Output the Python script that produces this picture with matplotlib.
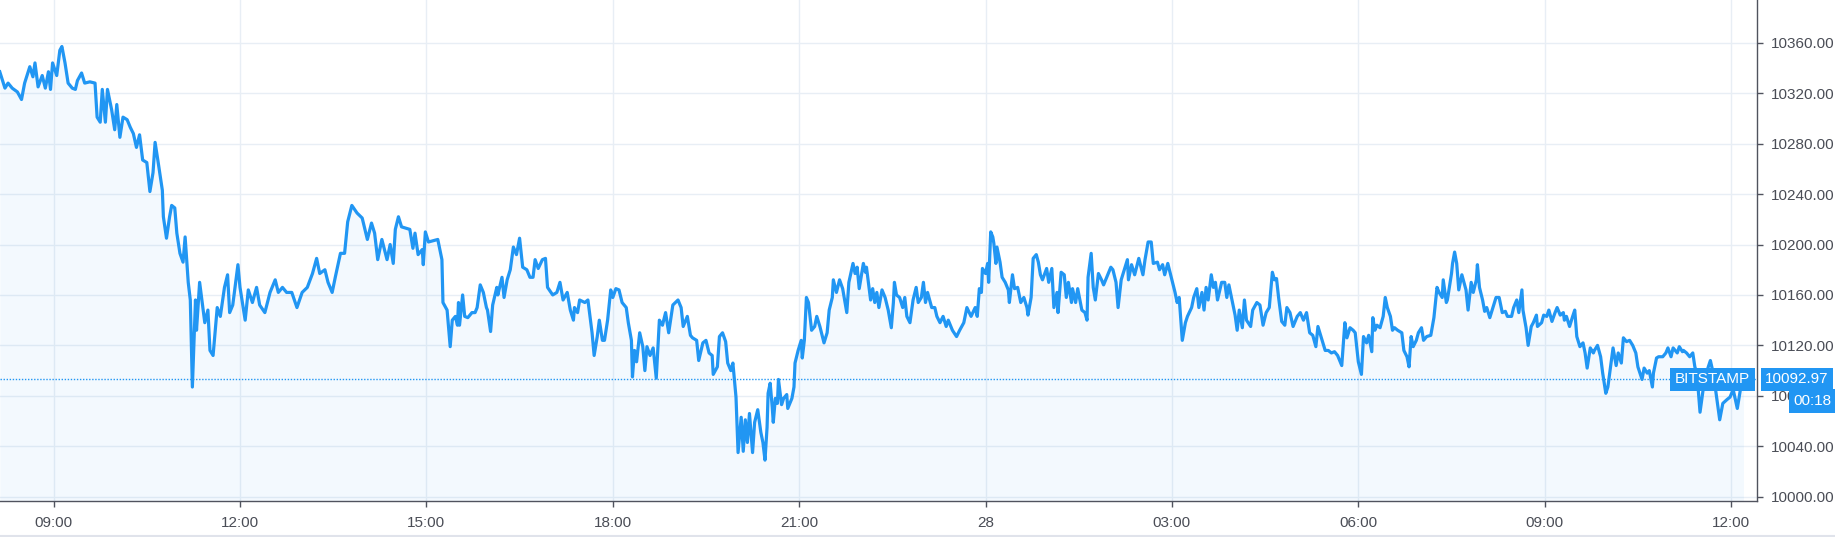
import numpy as np
import matplotlib.pyplot as plt
from matplotlib.transforms import blended_transform_factory
from matplotlib.lines import Line2D

plt.rcParams["font.family"] = ["Liberation Sans", "DejaVu Sans"]

# BITSTAMP price, minutes after 08:00 on the 27th
minutes = [8, 13, 16, 20, 25, 29, 32, 37, 40, 42, 45, 49, 52, 55, 57, 59, 63, 66, 68, 71,
           74, 78, 81, 83, 87, 90, 95, 100, 102, 105, 107, 110, 112, 116, 119, 121, 124, 127, 131, 134,
           137, 140, 143, 146, 150, 153, 156, 158, 161, 165, 166, 169, 172, 174, 177, 179, 182, 185, 187, 190,
           192, 194, 197, 198, 201, 206, 209, 211, 214, 218, 221, 225, 228, 230, 233, 238, 240, 245, 248, 252,
           256, 259, 264, 269, 274, 277, 281, 285, 290, 295, 300, 305, 310, 314, 317, 322, 325, 329, 332, 337,
           341, 344, 348, 353, 358, 363, 367, 370, 373, 377, 382, 385, 388, 390, 393, 396, 404, 407, 409, 412,
           416, 417, 419, 422, 431, 435, 436, 440, 443, 445, 448, 450, 451, 452, 455, 457, 460, 464, 467, 469,
           472, 475, 478, 479, 482, 484, 488, 489, 493, 495, 498, 501, 504, 507, 510, 513, 517, 520, 523, 525,
           528, 532, 535, 537, 542, 546, 549, 552, 556, 559, 562, 563, 566, 568, 573, 576, 580, 582, 585, 587,
           590, 592, 595, 598, 600, 603, 606, 609, 613, 615, 618, 619, 621, 623, 626, 629, 631, 633, 636, 639,
           642, 645, 648, 651, 654, 658, 663, 666, 668, 672, 675, 677, 681, 683, 687, 690, 693, 696, 697, 701,
           703, 706, 709, 711, 714, 716, 719, 721, 724, 726, 728, 730, 732, 735, 737, 740, 743, 745, 747, 749,
           750, 752, 754, 755, 757, 759, 760, 763, 765, 768, 769, 773, 775, 776, 779, 782, 783, 785, 787, 789,
           792, 795, 797, 800, 804, 807, 809, 812, 813, 816, 819, 822, 826, 828, 832, 834, 836, 838, 842, 844,
           845, 849, 851, 853, 855, 857, 860, 863, 866, 869, 871, 872, 874, 877, 880, 882, 884, 887, 890, 893,
           895, 898, 900, 902, 904, 908, 911, 913, 916, 919, 922, 924, 928, 932, 935, 939, 942, 946, 950, 952,
           954, 956, 957, 960, 962, 963, 965, 967, 968, 970, 971, 974, 976, 979, 982, 983, 986, 988, 991, 994,
           997, 1000, 1001, 1004, 1006, 1009, 1011, 1013, 1015, 1019, 1021, 1024, 1026, 1029, 1030, 1033, 1036, 1038, 1040, 1043,
           1044, 1047, 1049, 1053, 1056, 1058, 1059, 1062, 1064, 1066, 1069, 1072, 1074, 1077, 1081, 1083, 1086, 1088, 1091, 1094,
           1097, 1098, 1101, 1104, 1108, 1112, 1114, 1117, 1120, 1122, 1126, 1128, 1131, 1133, 1136, 1140, 1143, 1145, 1147, 1150,
           1153, 1155, 1159, 1161, 1164, 1166, 1169, 1171, 1173, 1175, 1178, 1180, 1182, 1184, 1188, 1191, 1193, 1195, 1198, 1201,
           1203, 1205, 1208, 1210, 1212, 1216, 1218, 1222, 1225, 1228, 1231, 1234, 1237, 1239, 1241, 1243, 1246, 1249, 1251, 1254,
           1257, 1261, 1264, 1267, 1270, 1273, 1276, 1279, 1281, 1285, 1288, 1291, 1294, 1297, 1300, 1304, 1307, 1309, 1312, 1315,
           1317, 1320, 1323, 1325, 1328, 1330, 1333, 1334, 1336, 1338, 1341, 1344, 1346, 1348, 1351, 1353, 1355, 1358, 1362, 1364,
           1367, 1369, 1371, 1373, 1376, 1378, 1381, 1383, 1386, 1390, 1393, 1396, 1398, 1401, 1402, 1405, 1406, 1410, 1411, 1413,
           1415, 1417, 1420, 1422, 1424, 1426, 1429, 1431, 1434, 1435, 1437, 1440, 1442, 1444, 1447, 1450, 1453, 1456, 1459, 1462,
           1464, 1468, 1470, 1473, 1475, 1478, 1479, 1482, 1484, 1487, 1489, 1492, 1493, 1497, 1499, 1502, 1504, 1507, 1510, 1512,
           1515, 1518, 1519, 1521, 1524, 1527, 1529, 1531, 1534, 1537, 1539, 1541, 1544, 1547, 1548, 1551, 1554, 1556, 1559, 1561,
           1564, 1566, 1569, 1571, 1574, 1576, 1579, 1582, 1585, 1588, 1590, 1594, 1596, 1599, 1601, 1604, 1605, 1608, 1610, 1614,
           1617, 1619, 1622, 1624, 1628, 1630, 1633, 1634, 1637, 1640, 1643, 1645, 1647, 1650, 1653, 1655, 1658, 1660, 1663, 1666,
           1669, 1672, 1676, 1679, 1682, 1686, 1689, 1692]

price = [10337, 10324, 10328, 10324, 10321, 10315, 10328, 10341, 10333, 10344, 10325, 10334, 10324, 10337, 10323, 10344, 10334, 10354, 10357, 10344,
         10328, 10324, 10323, 10330, 10336, 10328, 10329, 10328, 10301, 10297, 10323, 10297, 10323, 10307, 10291, 10311, 10285, 10301, 10299, 10293,
         10288, 10277, 10287, 10267, 10265, 10242, 10257, 10281, 10265, 10243, 10222, 10205, 10222, 10231, 10229, 10209, 10193, 10186, 10206, 10170,
         10156, 10087, 10156, 10132, 10170, 10138, 10148, 10116, 10112, 10150, 10143, 10166, 10176, 10146, 10152, 10184, 10166, 10140, 10164, 10154,
         10166, 10152, 10146, 10162, 10172, 10162, 10166, 10162, 10162, 10150, 10162, 10166, 10177, 10189, 10177, 10180, 10170, 10162, 10174, 10193,
         10193, 10218, 10231, 10225, 10221, 10204, 10217, 10209, 10188, 10204, 10188, 10200, 10185, 10212, 10222, 10214, 10212, 10197, 10209, 10192,
         10196, 10184, 10210, 10202, 10204, 10188, 10154, 10148, 10119, 10140, 10143, 10136, 10154, 10136, 10160, 10143, 10142, 10146, 10146, 10150,
         10168, 10162, 10150, 10148, 10131, 10152, 10166, 10160, 10174, 10158, 10172, 10180, 10198, 10192, 10205, 10182, 10180, 10174, 10174, 10188,
         10181, 10188, 10189, 10166, 10160, 10162, 10170, 10156, 10162, 10148, 10140, 10150, 10146, 10156, 10154, 10156, 10130, 10112, 10127, 10140,
         10124, 10124, 10140, 10164, 10158, 10165, 10164, 10154, 10150, 10138, 10124, 10095, 10116, 10107, 10130, 10119, 10100, 10119, 10112, 10118,
         10094, 10140, 10136, 10146, 10130, 10152, 10156, 10150, 10135, 10143, 10128, 10126, 10124, 10108, 10122, 10124, 10114, 10112, 10097, 10103,
         10127, 10130, 10123, 10106, 10100, 10106, 10079, 10035, 10063, 10036, 10061, 10043, 10066, 10035, 10059, 10069, 10051, 10043, 10029, 10055,
         10082, 10090, 10071, 10059, 10078, 10074, 10093, 10073, 10078, 10081, 10070, 10078, 10087, 10106, 10116, 10124, 10110, 10124, 10158, 10154,
         10132, 10135, 10143, 10135, 10122, 10130, 10148, 10158, 10172, 10162, 10172, 10165, 10146, 10170, 10185, 10177, 10182, 10165, 10185, 10178,
         10182, 10156, 10165, 10154, 10162, 10150, 10164, 10158, 10148, 10134, 10154, 10170, 10160, 10158, 10150, 10158, 10143, 10138, 10156, 10166,
         10154, 10158, 10170, 10154, 10162, 10150, 10150, 10143, 10138, 10143, 10135, 10140, 10132, 10127, 10132, 10138, 10150, 10143, 10150, 10143,
         10165, 10162, 10181, 10177, 10185, 10170, 10210, 10206, 10201, 10185, 10198, 10186, 10174, 10170, 10164, 10154, 10176, 10165, 10166, 10154,
         10158, 10150, 10144, 10158, 10189, 10192, 10186, 10176, 10172, 10181, 10170, 10181, 10150, 10162, 10146, 10178, 10176, 10158, 10170, 10154,
         10165, 10154, 10165, 10148, 10146, 10140, 10174, 10193, 10166, 10156, 10177, 10172, 10168, 10174, 10182, 10180, 10170, 10150, 10172, 10180,
         10188, 10172, 10184, 10176, 10189, 10176, 10188, 10202, 10202, 10185, 10186, 10180, 10184, 10176, 10185, 10172, 10162, 10154, 10158, 10124,
         10138, 10143, 10150, 10158, 10165, 10150, 10162, 10148, 10166, 10156, 10176, 10166, 10170, 10156, 10170, 10170, 10158, 10168, 10156, 10144,
         10132, 10148, 10134, 10156, 10140, 10135, 10148, 10154, 10152, 10136, 10146, 10150, 10178, 10172, 10173, 10158, 10139, 10136, 10150, 10146,
         10135, 10143, 10146, 10140, 10146, 10130, 10128, 10119, 10135, 10124, 10116, 10116, 10114, 10115, 10112, 10104, 10138, 10126, 10134, 10132,
         10130, 10107, 10097, 10127, 10122, 10128, 10115, 10142, 10132, 10136, 10134, 10143, 10158, 10150, 10143, 10132, 10134, 10132, 10130, 10116,
         10111, 10103, 10127, 10119, 10124, 10130, 10134, 10124, 10127, 10128, 10142, 10166, 10162, 10158, 10172, 10154, 10156, 10177, 10185, 10194,
         10185, 10164, 10176, 10170, 10164, 10148, 10170, 10162, 10172, 10184, 10166, 10156, 10147, 10150, 10142, 10150, 10158, 10158, 10146, 10147,
         10143, 10143, 10150, 10156, 10146, 10164, 10148, 10134, 10120, 10135, 10138, 10144, 10135, 10138, 10144, 10143, 10148, 10139, 10146, 10150,
         10144, 10146, 10140, 10143, 10135, 10143, 10148, 10127, 10119, 10122, 10114, 10102, 10118, 10114, 10116, 10120, 10111, 10098, 10082, 10087,
         10106, 10118, 10104, 10114, 10106, 10126, 10123, 10124, 10120, 10114, 10103, 10093, 10102, 10098, 10100, 10087, 10098, 10110, 10111, 10111,
         10114, 10118, 10111, 10118, 10114, 10119, 10115, 10116, 10114, 10111, 10114, 10103, 10098, 10067, 10085, 10095, 10103, 10108, 10097, 10079,
         10061, 10074, 10077, 10079, 10085, 10070, 10085, 10092.97]

last_price = 10092.97
exchange = "BITSTAMP"
countdown = "00:18"
tick_hours = [9, 12, 15, 18, 21, 24, 27, 30, 33, 36]
tick_labels = ["09:00", "12:00", "15:00", "18:00", "21:00", "28", "03:00", "06:00", "09:00", "12:00"]
price_ticks = [10000, 10040, 10080, 10120, 10160, 10200, 10240, 10280, 10320, 10360]

blue = "#2196f3"
axis_col = "#50535e"
text_col = "#4a4d56"
grid_col = "#e8eef5"

hours = 8 + np.array(minutes) / 60
ymin, ymax = 9996.6, 10393.9

fig = plt.figure(figsize=(18.35, 5.37), dpi=100)
ax = fig.add_axes([0, 36 / 537, 1757 / 1835, 501 / 537])

ax.fill_between(hours, price, ymin, color=blue, alpha=0.05, lw=0, zorder=2)
ax.plot(hours, price, color=blue, lw=2.3, zorder=3, solid_joinstyle="round")
ax.axhline(last_price, color=blue, lw=1, ls=(0, (1, 1.2)), zorder=3)

ax.set_xlim(8.137, 36.417)
ax.set_ylim(ymin, ymax)
ax.set_xticks(tick_hours)
ax.set_xticklabels(tick_labels)
ax.set_yticks(price_ticks)
ax.set_yticklabels([f"{v:.2f}" for v in price_ticks])
ax.yaxis.tick_right()
ax.grid(True, color=grid_col, lw=1, zorder=0)
ax.set_axisbelow(True)

for s in ["left", "top"]:
    ax.spines[s].set_visible(False)
for s in ["right", "bottom"]:
    ax.spines[s].set_color(axis_col)
    ax.spines[s].set_linewidth(1)
ax.tick_params(axis="both", direction="out", length=4, width=1, color=axis_col,
               labelcolor=text_col, labelsize=11)
ax.tick_params(axis="y", pad=6)
ax.tick_params(axis="x", pad=7)

# price labels on the right axis
trans = blended_transform_factory(ax.transAxes, ax.transData)
box = dict(boxstyle="square,pad=0.3", fc=blue, ec="none")
ax.annotate(f"{last_price:.2f}", xy=(1, last_price), xycoords=trans,
            xytext=(6, 0), textcoords="offset points", ha="left", va="center",
            color="white", fontsize=11, bbox=box, annotation_clip=False, zorder=6)
ax.annotate(exchange, xy=(1, last_price), xycoords=trans,
            xytext=(-5, 0), textcoords="offset points", ha="right", va="center",
            color="white", fontsize=11, bbox=box, annotation_clip=False, zorder=6)
ax.annotate(countdown, xy=(1, last_price), xycoords=trans,
            xytext=(26, -15.5), textcoords="offset points", ha="left", va="center",
            color="white", fontsize=11, bbox=box, annotation_clip=False, zorder=6)

fig.add_artist(Line2D([0, 1], [1.5 / 537, 1.5 / 537], color="#e0e3eb", lw=1.5))

fig.savefig("out.png", dpi=100)
